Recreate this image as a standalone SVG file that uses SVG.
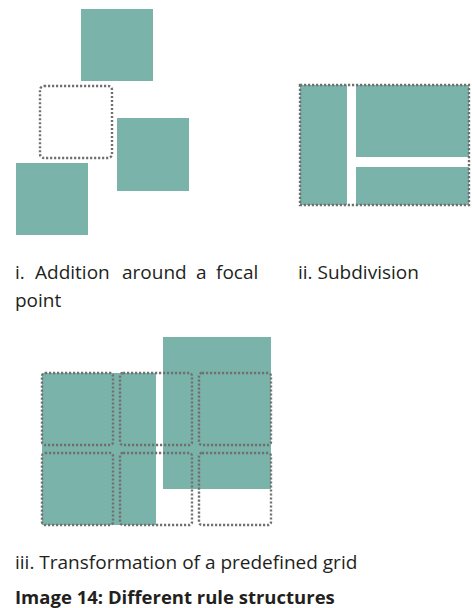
<svg xmlns="http://www.w3.org/2000/svg" width="472" height="608" viewBox="0 0 472 608">
<style>
.t{fill:#7ab3a9}
.d{fill:none;stroke:#707070;stroke-width:2.4;stroke-dasharray:2.2 1.8}
.tx{font-family:"Open Sans","Noto Sans",sans-serif;font-size:19px;fill:#231f20}
.b{font-weight:bold;font-size:18.5px}
</style>
<rect width="472" height="608" fill="#fff"/>
<g id="diagram-i">
<rect class="t" x="81" y="9" width="72" height="72"/>
<rect class="t" x="117" y="118" width="72" height="73"/>
<rect class="t" x="16" y="163" width="72" height="72"/>
<rect class="d" x="40" y="86" width="72" height="72" rx="4"/>
</g>
<g id="diagram-ii">
<rect class="t" x="300" y="85" width="47" height="120"/>
<rect class="t" x="356" y="85" width="113" height="72"/>
<rect class="t" x="356" y="167" width="113" height="38"/>
<rect class="d" x="300" y="85" width="169" height="120"/>
</g>
<g id="diagram-iii">
<rect class="t" x="163" y="337" width="108" height="152"/>
<rect class="t" x="42" y="373" width="114" height="152"/>
<rect class="d" x="42" y="373" width="71" height="72" rx="3"/>
<rect class="d" x="120" y="373" width="72" height="72" rx="3"/>
<rect class="d" x="199" y="373" width="72" height="72" rx="3"/>
<rect class="d" x="42" y="453" width="71" height="72" rx="3"/>
<rect class="d" x="120" y="453" width="72" height="72" rx="3"/>
<rect class="d" x="199" y="453" width="72" height="72" rx="3"/>
</g>
<g id="labels">
<text class="tx" y="279"><tspan x="15">i.</tspan> <tspan x="35">Addition</tspan> <tspan x="122">around</tspan> <tspan x="196">a</tspan> <tspan x="216">focal</tspan></text>
<text class="tx" x="15" y="307">point</text>
<text class="tx" x="298" y="279">ii. Subdivision</text>
<text class="tx" x="15" y="569">iii. Transformation of a predefined grid</text>
<text class="tx b" x="15" y="604">Image 14: Different rule structures</text>
</g>
</svg>
